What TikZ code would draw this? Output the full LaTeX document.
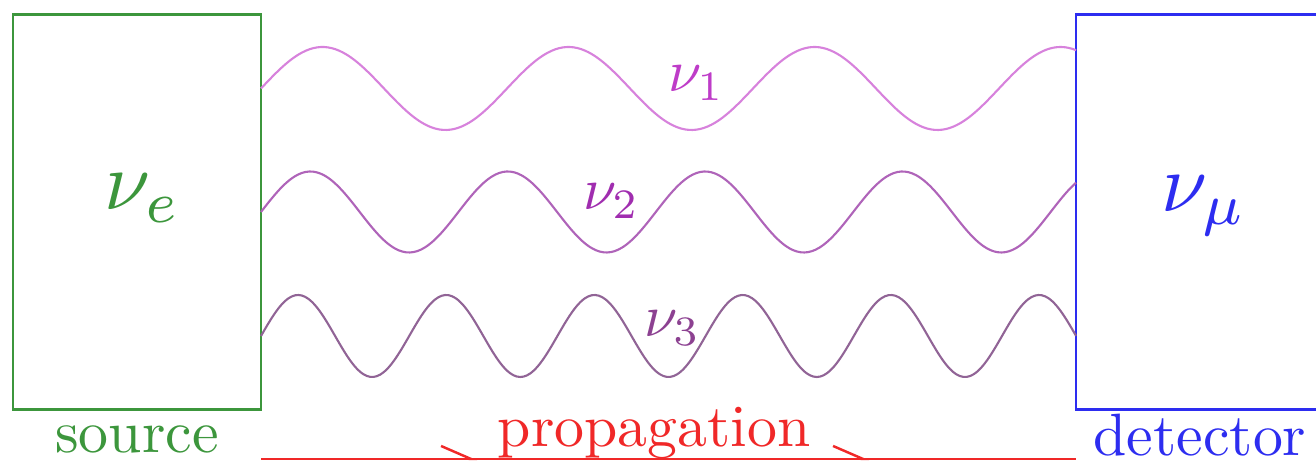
\documentclass[tikz,border=0pt]{standalone}
\usetikzlibrary{arrows.meta}
\definecolor{srcG}{RGB}{60,150,60}
\definecolor{detB}{RGB}{45,45,240}
\definecolor{propR}{RGB}{240,40,40}
\definecolor{waveA}{RGB}{215,130,220}
\definecolor{waveB}{RGB}{175,100,185}
\definecolor{waveC}{RGB}{145,100,150}
\definecolor{labA}{RGB}{190,60,200}
\definecolor{labB}{RGB}{160,45,175}
\definecolor{labC}{RGB}{140,65,145}

\begin{document}
\begin{tikzpicture}[x=0.01cm,y=-0.01cm,>={Straight Barb[left,length=0.3cm,width=0.26cm]},
  boxnode/.style={line width=0.8pt,minimum width=2.48cm,minimum height=3.94cm,inner sep=0},
  bignu/.style={scale=2.35,anchor=base west,inner sep=0},
  smallnu/.style={scale=1.7,anchor=base west,inner sep=0},
  word/.style={scale=1.7,anchor=base,inner sep=0}]
\clip (0,0) rectangle (1316,465);
% boxes
\node[boxnode,draw=srcG] (src) at (137,212) {};
\node[boxnode,draw=detB] (det) at (1200,212) {};
\node[bignu,text=srcG] (nue) at (103,210) {$\nu_e$};
\node[bignu,text=detB] (numu) at (1160,212) {$\nu_\mu$};
% mass eigenstates
\draw[waveA,line width=0.6pt] plot[domain=261:1076,samples=220,smooth] (\x,{88.5-41.5*sin((\x-261)/246*360)});
\draw[waveB,line width=0.6pt] plot[domain=261:1076,samples=220,smooth] (\x,{212-40.5*sin((\x-261)/197.4*360)});
\draw[waveC,line width=0.6pt] plot[domain=261:1076,samples=240,smooth] (\x,{336-41*sin((\x-261)/148.2*360)});
\node[smallnu,text=labA] (nu1) at (667,92) {$\nu_1$};
\node[smallnu,text=labB] (nu2) at (582,210) {$\nu_2$};
\node[smallnu,text=labC] (nu3) at (643,337) {$\nu_3$};
% propagation
\coordinate (pa) at (261,459);
\coordinate (pm1) at (477,459);
\coordinate (pm2) at (869,459);
\coordinate (pb) at (1076,459);
\draw[propR,line width=0.7pt] (pa)--(pb);
\draw[propR,line width=0.7pt,->] (pa)--(pm1);
\draw[propR,line width=0.7pt,->] (pm1)--(pm2);
\node[word,text=srcG] (srclab) at (137,453) {source};
\node[word,text=detB] (detlab) at (1200,456) {detector};
\node[word,text=propR] (proplab) at (654,447) {propagation};
\end{tikzpicture}
\end{document}
